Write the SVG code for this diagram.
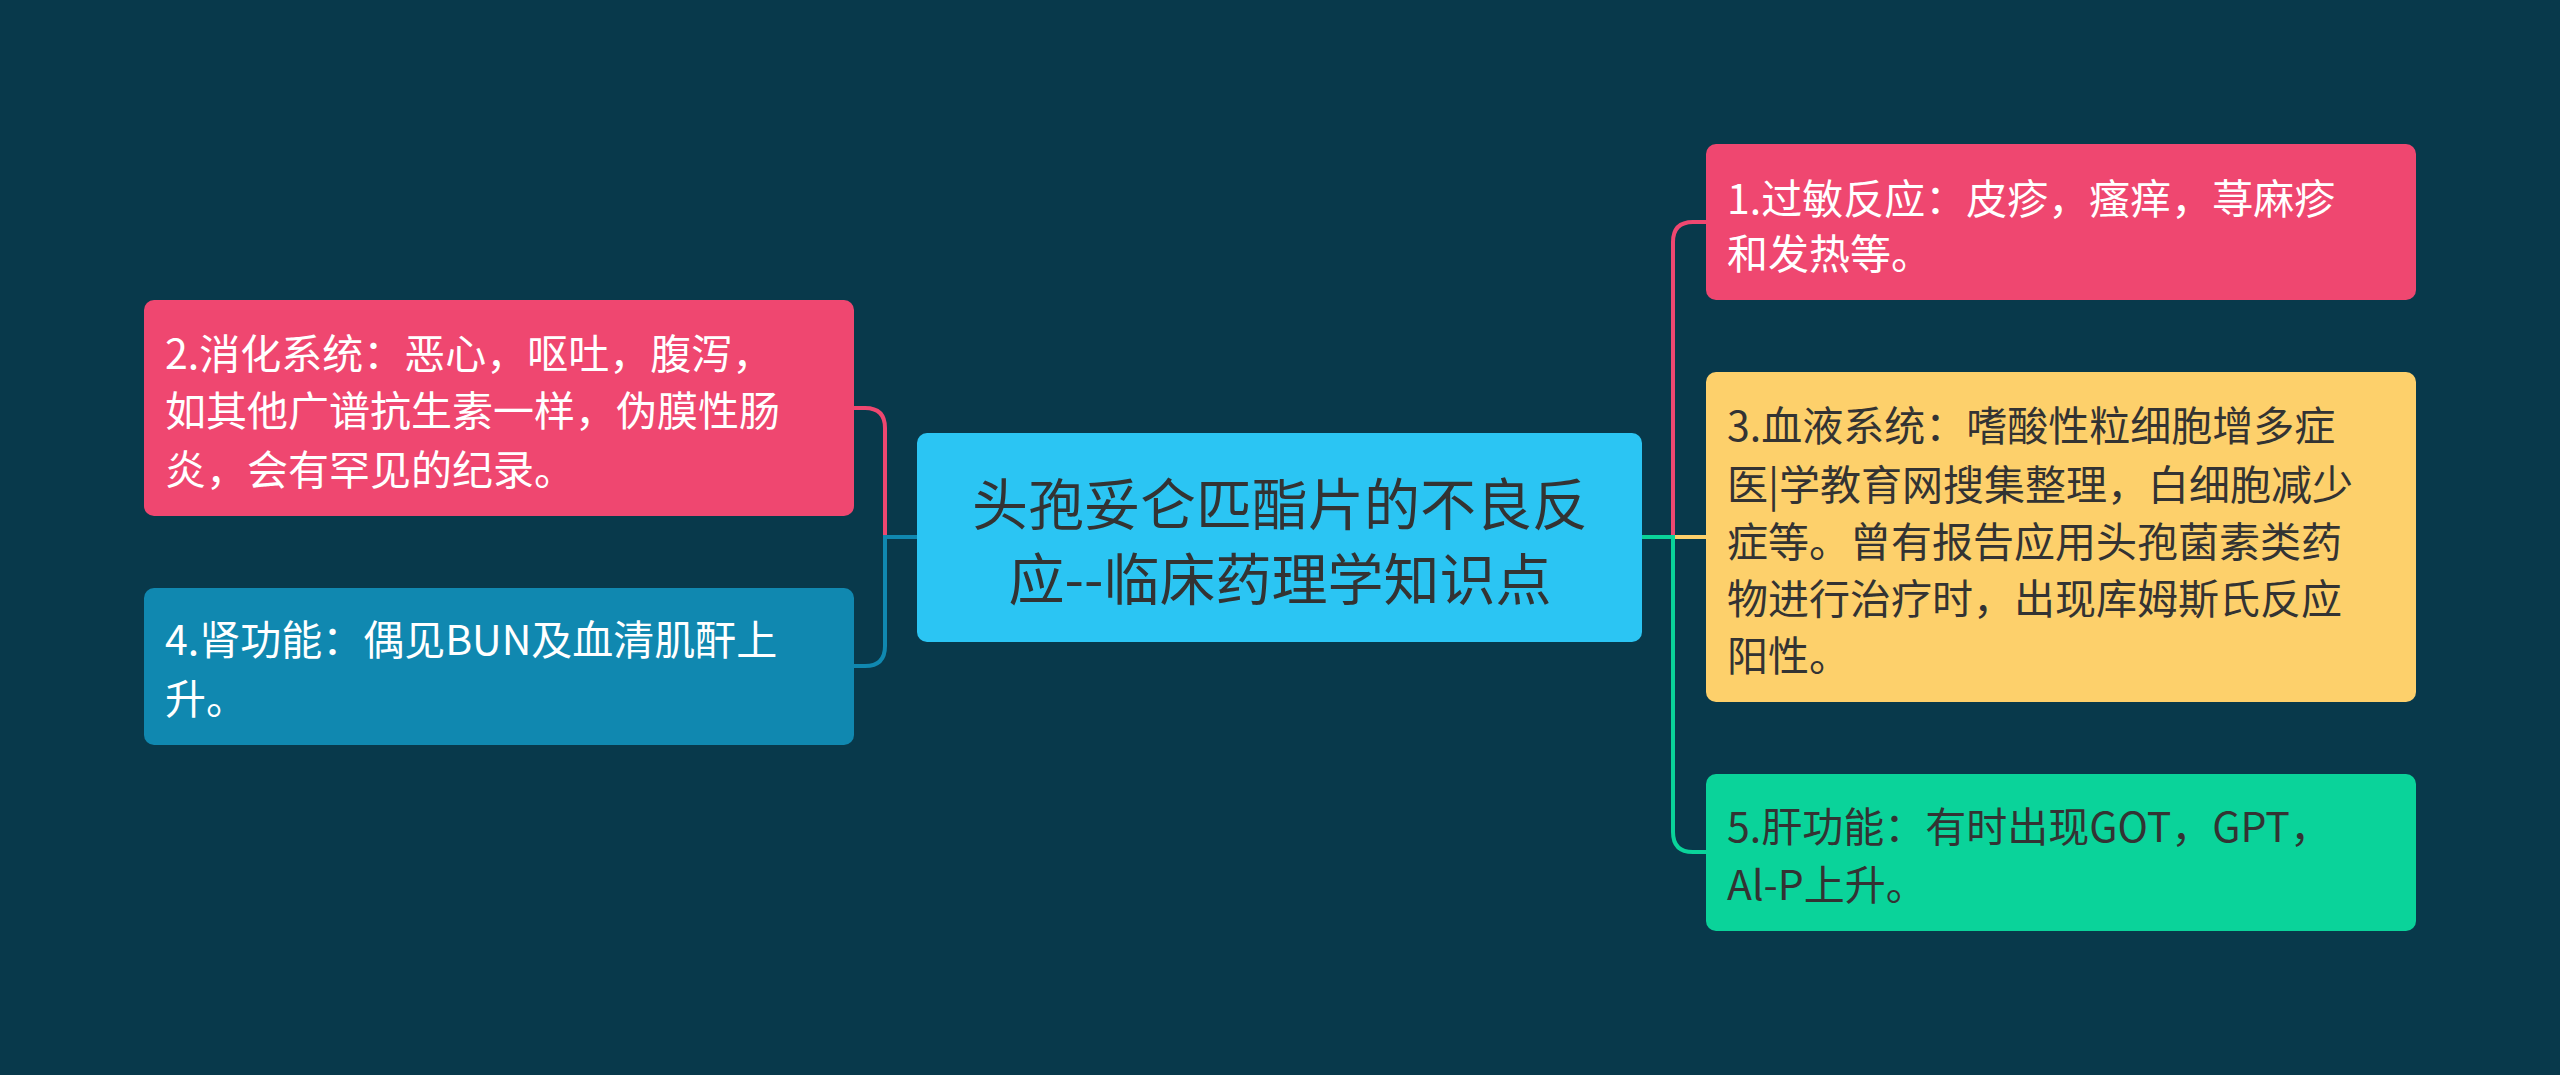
<svg xmlns="http://www.w3.org/2000/svg" width="2560" height="1075" viewBox="0 0 2560 1075">
<style>
text{font-family:"Noto Sans CJK SC","Noto Sans",sans-serif;font-size:41px;dominant-baseline:central;fill:#ffffff}
.dark{fill:#333333}
.c{font-size:56px;text-anchor:middle;fill:#333333}
.ln{fill:none;stroke-width:4}
</style>
<rect width="2560" height="1075" fill="#08394b"/>
<g id="connectors">
<path class="ln" stroke="#ef4770" d="M917 537 H885 V428 Q885 408 865 408 H854"/>
<path class="ln" stroke="#1088b0" d="M917 537 H885 V646 Q885 666 865 666 H854"/>
<path class="ln" stroke="#ef4770" d="M1642 537 H1673 V242 Q1673 222 1693 222 H1706"/>
<path class="ln" stroke="#fdd06b" d="M1642 537 H1706"/>
<path class="ln" stroke="#0ad39a" d="M1642 537 H1673 V832 Q1673 852 1693 852 H1706"/>
</g>
<g id="center">
<rect x="917" y="433" width="725" height="209" rx="10" fill="#2bc5f3"/>
<text class="c" x="1280" y="500">头孢妥仑匹酯片的不良反</text>
<text class="c" x="1280" y="575">应--临床药理学知识点</text>
</g>
<g id="n2">
<rect x="144" y="300" width="710" height="216" rx="10" fill="#ef4770"/>
<text x="165" y="351">2.消化系统：恶心，呕吐，腹泻，</text>
<text x="165" y="408">如其他广谱抗生素一样，伪膜性肠</text>
<text x="165" y="467">炎，会有罕见的纪录。</text>
</g>
<g id="n4">
<rect x="144" y="588" width="710" height="157" rx="10" fill="#1088b0"/>
<text x="165" y="637">4.肾功能：偶见BUN及血清肌酐上</text>
<text x="165" y="696">升。</text>
</g>
<g id="n1">
<rect x="1706" y="144" width="710" height="156" rx="10" fill="#ef4770"/>
<text x="1727" y="196">1.过敏反应：皮疹，瘙痒，荨麻疹</text>
<text x="1727" y="251">和发热等。</text>
</g>
<g id="n3">
<rect x="1706" y="372" width="710" height="330" rx="10" fill="#fdd06b"/>
<text class="dark" x="1727" y="423">3.血液系统：嗜酸性粒细胞增多症</text>
<text class="dark" x="1727" y="482">医|学教育网搜集整理，白细胞减少</text>
<text class="dark" x="1727" y="539">症等。曾有报告应用头孢菌素类药</text>
<text class="dark" x="1727" y="596">物进行治疗时，出现库姆斯氏反应</text>
<text class="dark" x="1727" y="653">阳性。</text>
</g>
<g id="n5">
<rect x="1706" y="774" width="710" height="157" rx="10" fill="#0ad39a"/>
<text class="dark" x="1727" y="824">5.肝功能：有时出现GOT，GPT，</text>
<text class="dark" x="1727" y="882">Al-P上升。</text>
</g>
</svg>
